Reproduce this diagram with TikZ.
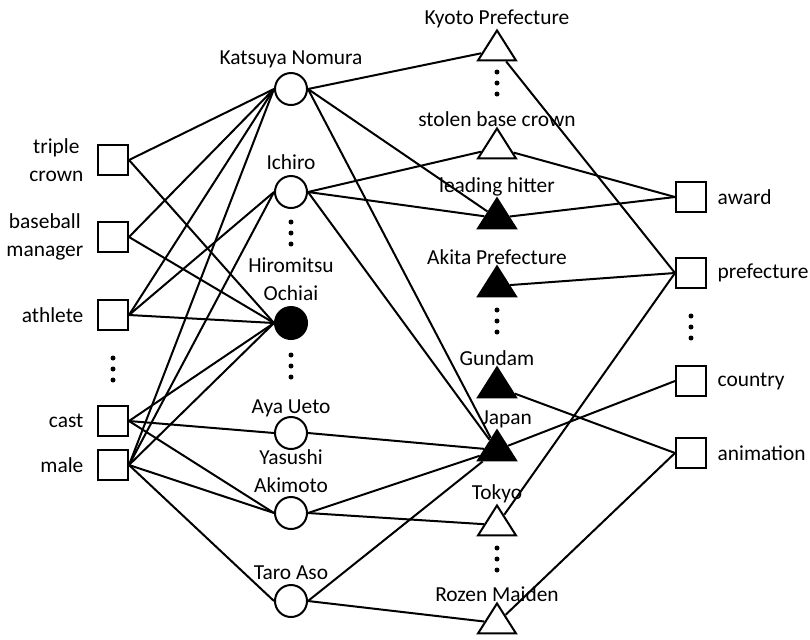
\documentclass[tikz,border=0pt]{standalone}
\usepackage{fontspec}
\setmainfont{Carlito}
\usetikzlibrary{shapes.geometric}
\begin{document}
\begin{tikzpicture}[x=0.5pt,y=-0.5pt,line width=1pt,
    every node/.style={font=\fontsize{10.7}{14}\selectfont},
    attr/.style={draw,rectangle,minimum size=15pt,inner sep=0pt},
    ent/.style={draw,circle,minimum size=16pt,inner sep=0pt},
    hit/.style={ent,fill=black},
    obj/.style={draw,isosceles triangle,isosceles triangle stretches,
        shape border rotate=90,minimum width=19pt,minimum height=15pt,inner sep=0pt},
    hitobj/.style={obj,fill=black},
    tlbl/.style={label distance=-4pt}]
    \useasboundingbox (0,0) rectangle (810,639);
    % left attributes
    \node[attr,label={[align=center,label distance=3pt]left:{triple\\crown}}] (triple) at (113,160) {};
    \node[attr,label={[align=center,label distance=3pt]left:{baseball\\manager}}] (manager) at (113,237) {};
    \node[attr,label={[label distance=3pt]left:athlete}] (athlete) at (113,315) {};
    \node[attr,label={[label distance=3pt]left:cast}] (cast) at (113,421) {};
    \node[attr,label={[label distance=3pt]left:male}] (male) at (113,465) {};
    % persons
    \node[ent,label={[label distance=-2pt]above:Katsuya Nomura}] (nomura) at (291,89) {};
    \node[ent,label={[label distance=-1pt]above:Ichiro}] (ichiro) at (291,192) {};
    \node[hit,label={[align=center,label distance=-1pt]above:{Hiromitsu\\Ochiai}}] (ochiai) at (291,323) {};
    \node[ent,label={[label distance=-4.5pt]above:Aya Ueto}] (aya) at (291,433) {};
    \node[ent,label={[align=center,label distance=-2pt]above:{Yasushi\\Akimoto}}] (akimoto) at (291,513) {};
    \node[ent,label={[label distance=-1.5pt]above:Taro Aso}] (aso) at (291,601) {};
    % objects
    \node[obj,label={[tlbl]above:Kyoto Prefecture}] (kyoto) at (497,50) {};
    \node[obj,label={[tlbl]above:stolen base crown}] (stolen) at (497,148) {};
    \node[hitobj,label={[tlbl]above:leading hitter}] (leading) at (497,218) {};
    \node[hitobj,label={[tlbl]above:Akita Prefecture}] (akita) at (497,286) {};
    \node[hitobj,label={[tlbl]above:Gundam}] (gundam) at (497,387) {};
    \node[hitobj,label={[tlbl,xshift=5pt]above:Japan}] (japan) at (497,450) {};
    \node[obj,label={[tlbl]above:Tokyo}] (tokyo) at (497,525) {};
    \node[obj,label={[tlbl]above:Rozen Maiden}] (rozen) at (497,623) {};
    % right attributes
    \node[attr,label={[label distance=1.5pt]right:award}] (award) at (691,197) {};
    \node[attr,label={[label distance=1.5pt]right:prefecture}] (pref) at (691,273) {};
    \node[attr,label={[label distance=1.5pt]right:country}] (country) at (691,381) {};
    \node[attr,label={[label distance=1.5pt]right:animation}] (anim) at (691,453) {};
    % dots
    \foreach \x/\y in {113/369,291/233,291/366,497/83,497/321,497/559,691/327}
        \foreach \d in {-11,0,11}
            \fill (\x,\y+\d) circle (1.25pt);
    % edges
    \foreach \a/\b in {triple/nomura,triple/ochiai,manager/nomura,manager/ochiai,
        athlete/nomura,athlete/ichiro,athlete/ochiai,cast/ochiai,cast/aya,cast/akimoto,
        male/nomura,male/ichiro,male/ochiai,male/akimoto,male/aso}
        \draw (\a.east) -- (\b.west);
    \foreach \a/\b in {nomura/kyoto,nomura/leading,nomura/japan,ichiro/stolen,
        ichiro/leading,ichiro/japan,aya/japan,akimoto/japan,akimoto/tokyo,aso/japan,aso/rozen}
        \draw (\a.east) -- (\b);
    \foreach \a/\b in {kyoto/pref,stolen/award,leading/award,akita/pref,
        gundam/anim,japan/country,tokyo/pref,rozen/anim}
        \draw (\a) -- (\b.west);
\end{tikzpicture}
\end{document}
